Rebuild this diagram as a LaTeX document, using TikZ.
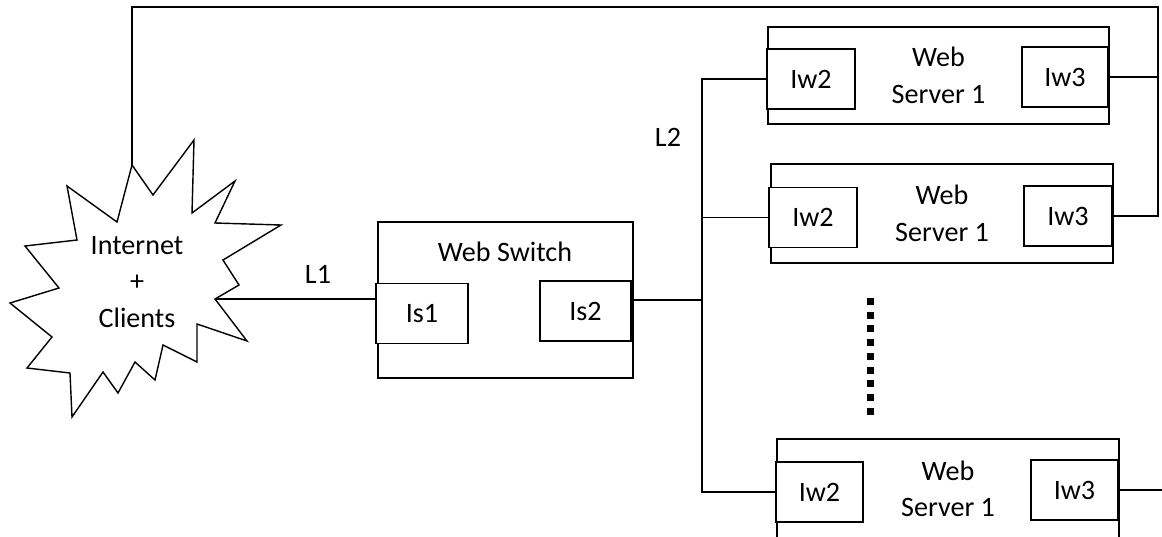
\documentclass[tikz,border=0pt]{standalone}
\usepackage{fontspec}
\setmainfont{Carlito}
\usepackage{tikz}
\tikzset{
	serverstyle/.style={rectangle,draw=black,fill=white,align=center,inner sep=0pt,minimum width=6.84cm,minimum height=1.98cm},
	portstyle/.style={rectangle,draw=black,fill=white,inner sep=0pt,minimum width=1.76cm,minimum height=1.2cm},
	textstyle/.style={align=center,inner sep=0pt},
	thickstyle/.style={line width=1.5pt}
}

\begin{document}
\begin{tikzpicture}[x=0.02cm,y=-0.02cm,line width=0.8pt]
	\fontsize{16}{20.8}\selectfont
	\useasboundingbox (0,0) rectangle (1162,537);
	% internet cloud
	\draw (132,165) -- (153,195) -- (194,140) -- (192,213) -- (235,181) -- (215,223)
		-- (281,225) -- (223,260) -- (239,285) -- (215,299) -- (247,341) -- (197,324)
		-- (197,362) -- (163,345) -- (155,380) -- (135,362) -- (118,393) -- (103,372)
		-- (72,417) -- (70,373) -- (27,368) -- (52,337) -- (10,303) -- (59,288)
		-- (25,246) -- (77,240) -- (67,186) -- (117,222) -- cycle;
	\coordinate (nettop) at (132,165);
	\coordinate (netright) at (215,299);
	\node[textstyle] (net) at (137,282) {Internet\\+\\Clients};
	% web switch
	\node[rectangle,draw=black,minimum width=5.1cm,minimum height=3.12cm] (switch) at (505.5,300) {};
	\node[textstyle] (swname) at (505,252) {Web Switch};
	\node[portstyle,minimum width=1.84cm] (is1) at (422,313.5) {Is1};
	\node[portstyle,minimum width=1.82cm] (is2) at (585.5,311) {Is2};
	% web servers
	\node[serverstyle,minimum width=6.82cm,minimum height=1.94cm] (srva) at (938.5,75.5) {Web\\Server 1};
	\node[serverstyle] (srvb) at (942,213.5) {Web\\Server 1};
	\node[serverstyle,minimum height=2cm] (srvc) at (948,489) {Web\\Server 1};
	\node[portstyle] (iw2a) at (811,79) {Iw2};
	\node[portstyle,minimum width=1.72cm] (iw3a) at (1065,77) {Iw3};
	\node[portstyle] (iw2b) at (813,217.5) {Iw2};
	\node[portstyle] (iw3b) at (1068,216) {Iw3};
	\node[portstyle,minimum width=1.74cm] (iw2c) at (819.5,492) {Iw2};
	\node[portstyle,minimum width=1.74cm] (iw3c) at (1074.5,490) {Iw3};
	\draw[line width=4pt,dash pattern=on 4pt off 3.8pt] (870,298) -- (870,415);
	% links
	\coordinate (topright) at (1158,7);
	\coordinate (hub) at (702,300);
	\coordinate (outc) at (1162,490);
	\draw (nettop) |- (topright) |- (iw3b.east);
	\draw[thickstyle] (iw3a.east) -- (iw3a.east -| topright);
	\draw[thickstyle] (iw3b.east) -- (iw3b.east -| topright);
	\draw (netright) -- (netright -| is1.west);
	\node[textstyle] (l1) at (318,274) {L1};
	\draw[thickstyle] (is2.east |- hub) -- (hub) -- (hub |- iw2b.west);
	\draw (hub |- iw2b.west) -- (iw2b.west);
	\draw (hub) |- (iw2a.west);
	\draw (hub) |- (iw2c.west);
	\node[textstyle] (l2) at (668,137) {L2};
	\draw (iw3c.east) -- (outc);
\end{tikzpicture}
\end{document}
